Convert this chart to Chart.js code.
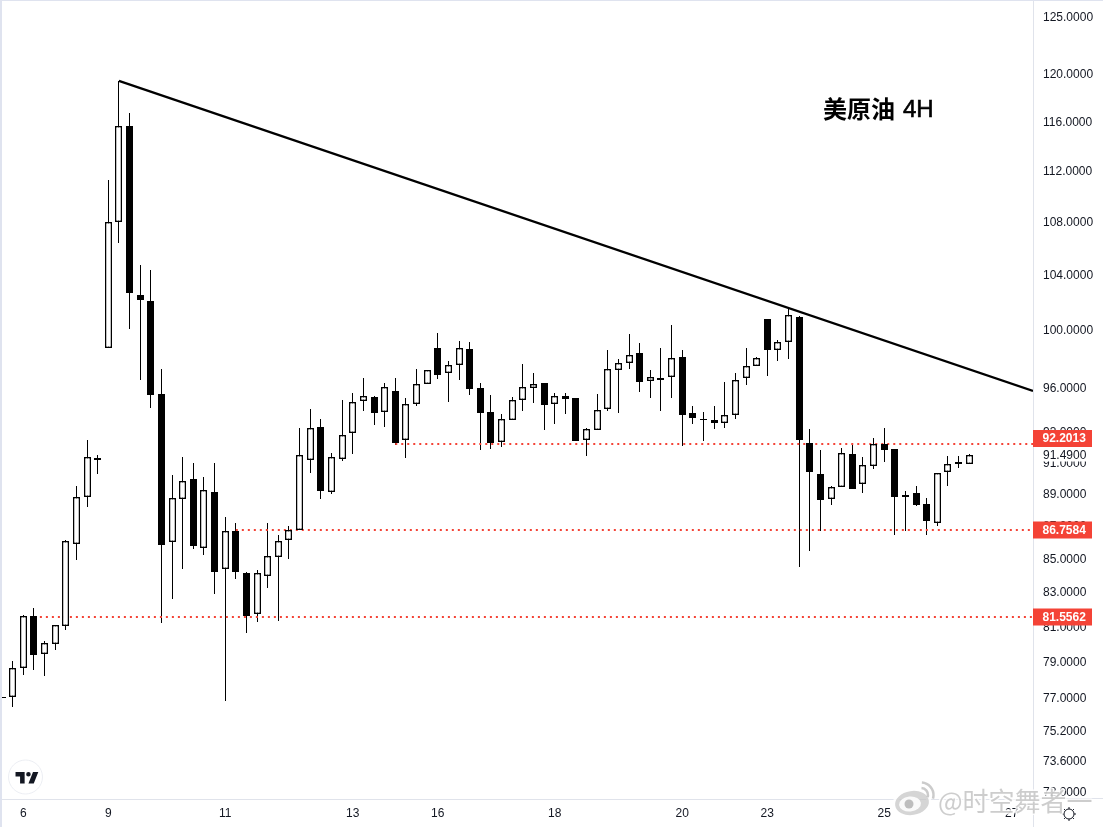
<!DOCTYPE html>
<html><head><meta charset="utf-8">
<style>html,body{margin:0;padding:0;background:#fff;overflow:hidden}canvas{display:block}</style>
<script src="https://cdn.jsdelivr.net/npm/chart.js@4"></script>
</head><body><canvas id="c" width="1103" height="827"></canvas>
<script>
const opens=[77.02,76.99,78.59,81.55,79.38,79.94,80.97,85.84,88.76,91.28,98.68,107.94,115.57,102.50,102.06,95.53,86.00,88.63,89.90,85.60,89.10,84.33,86.64,84.09,81.67,83.91,85.05,86.08,86.70,91.13,93.29,89.08,91.19,92.89,95.03,95.30,94.29,95.71,92.43,94.83,96.19,98.68,96.95,97.50,98.61,95.92,94.29,92.30,93.76,95.10,95.92,96.26,94.83,95.37,95.24,92.43,93.09,94.49,97.15,97.64,98.33,96.39,96.60,96.67,98.05,94.23,93.84,93.76,93.56,94.09,96.60,97.43,100.74,98.55,99.11,100.89,92.24,90.22,88.63,89.39,91.52,89.58,90.76,92.17,91.84,88.90,89.01,88.32,87.13,90.35,91.00,90.87];
const highs=[77.02,78.98,81.63,82.04,80.13,81.03,86.10,89.47,92.45,91.47,111.24,119.36,116.67,104.69,104.34,97.24,90.18,91.34,90.95,90.05,90.95,87.52,87.15,84.15,84.29,87.15,86.39,86.97,93.22,94.51,93.84,91.58,95.12,95.58,96.60,95.37,96.26,96.60,95.24,97.22,97.15,99.74,97.78,99.18,99.11,96.26,95.44,94.18,95.30,97.57,96.95,96.26,95.58,95.58,95.24,93.22,95.53,98.55,97.92,99.67,99.04,97.15,98.68,100.31,98.55,94.70,94.29,94.70,96.33,96.95,98.68,98.05,100.74,99.25,101.65,101.00,93.16,91.80,89.47,91.91,92.19,91.32,92.56,93.24,91.84,89.16,89.47,88.70,90.29,91.41,91.41,91.52];
const lows=[76.98,76.47,78.22,78.51,78.16,79.62,80.76,84.89,88.15,90.24,98.68,106.39,100.07,96.48,94.58,81.18,82.56,84.36,85.55,85.19,82.86,76.78,83.75,80.59,81.24,83.23,81.30,84.95,86.70,90.31,88.65,88.97,91.08,91.54,94.40,93.44,93.33,92.12,91.30,94.72,96.19,96.55,95.01,96.48,95.48,91.80,91.86,92.01,93.76,94.40,94.92,93.11,93.51,94.18,92.41,91.43,93.09,94.40,94.27,97.24,95.68,95.28,94.38,95.28,92.06,93.51,92.39,93.18,93.24,93.84,96.16,97.43,96.76,97.82,97.96,84.48,85.45,86.68,88.27,89.39,89.30,89.03,90.56,91.02,86.41,86.68,88.23,86.41,86.97,89.47,90.65,90.87];
const closes=[76.98,78.59,81.55,79.36,80.00,81.03,86.02,88.76,91.32,91.15,107.94,115.57,102.67,102.14,95.48,85.80,88.70,89.78,85.75,89.20,84.18,86.64,84.18,81.59,84.09,85.11,86.02,86.70,91.45,93.22,89.18,91.32,92.76,94.97,95.37,94.27,95.98,92.27,94.83,96.19,97.15,96.85,97.50,98.68,95.89,94.27,92.27,93.82,95.10,95.98,96.19,94.80,95.37,95.21,92.41,93.16,94.43,97.22,97.64,98.19,96.37,96.67,96.50,97.99,94.13,93.93,93.80,93.60,94.09,96.46,97.43,97.99,98.55,99.11,101.03,92.47,90.39,88.61,89.39,91.58,89.30,90.80,92.17,91.82,88.80,88.80,88.29,87.29,90.29,90.87,90.91,91.49];
const dayTicks=[2,10,21,33,41,52,64,72,83,95];
const dayLabels=['6','9','11','13','16','18','20','23','25','27'];
const priceTicks=[125,120,116,112,108,104,100,96,93,91,89,87,85,83,81,79,77,75.2,73.6,72];
const levelValues=[92.19,86.72,81.51];
const levelStarts=[37,22,3];
const levelLabels=['92.2013','86.7584','81.5562'];
const lastPrice=91.49;
const trendX=[11,97];
const trendY=[119.36,95.73];
const xRange=[0,97];
const yRange=[71.61,126.43];

const idx=opens.map((_,i)=>i);
const tickColor='#131722', axisColor='#e0e3eb', red='#f44336';

const crisp={id:'crisp',afterDatasetsUpdate(chart){
  chart.data.datasets.forEach((ds,n)=>{
    const meta=chart.getDatasetMeta(n);
    if(meta.type==='bar'){
      meta.data.forEach(el=>{
        el.x=Math.floor(el.x)+0.5;
        let t=Math.round(Math.min(el.y,el.base)), b=Math.round(Math.max(el.y,el.base));
        if(b-t<1)b=t+1;
        el.y=t; el.base=b;
      });
    } else if(ds.snap){
      meta.data.forEach(p=>{p.y=Math.round(p.y);});
    }
  });
}};

const TV='M14 6H2v6h6v9h6V6Zm12 15h-7l6-15h7l-6 15Zm-7-9a3 3 0 1 0 0-6 3 3 0 0 0 0 6Z';
const overlay={id:'overlay',
 beforeDraw(chart){
  // nudge the price labels onto the reference's text centre line
  chart.scales.y.getLabelItems().forEach(it=>{
    if(!it.nudged){it.options.translation=[it.options.translation[0],it.options.translation[1]+1.5];it.nudged=true;}
  });
 },
 afterDraw(chart){
  const ctx=chart.ctx, y=chart.scales.y, ca=chart.chartArea;
  ctx.save();
  // window edge
  ctx.fillStyle='#dfe3ef';
  ctx.fillRect(0,0,2,827); ctx.fillRect(0,0,1103,1);
  // axis line extensions
  ctx.fillStyle=axisColor;
  ctx.fillRect(1033,ca.bottom,1,28);
  ctx.fillRect(1033,ca.bottom-1,70,1);
  // last price
  const ly=y.getPixelForValue(lastPrice);
  ctx.fillStyle='#fff';
  ctx.fillRect(1034,447,66,14.5);
  ctx.fillStyle=tickColor; ctx.font='12px "Liberation Sans"';
  ctx.textAlign='left'; ctx.textBaseline='middle';
  ctx.fillText(lastPrice.toFixed(4),1043,ly+1);
  // level badges
  const shifts=[-5.5,0,0];
  levelValues.forEach((v,i)=>{
    const py=Math.round(y.getPixelForValue(v))+shifts[i];
    ctx.fillStyle=red;
    ctx.fillRect(1033,py-8.5,59,17);
    ctx.fillStyle='#fff'; ctx.font='bold 12px "Liberation Sans"';
    ctx.fillText(levelLabels[i],1042.5,py+0.5);
  });
  // title
  ctx.fillStyle='#000'; ctx.textBaseline='middle';
  ctx.font='bold 24px "Noto Sans CJK SC"';
  ctx.fillText('美原油',823,109);
  ctx.font='24px "Liberation Sans"';
  ctx.strokeStyle='#000'; ctx.lineWidth=0.6;
  ctx.strokeText('4H',903,110);
  ctx.fillText('4H',903,110);
  // TradingView badge
  ctx.beginPath(); ctx.arc(25.5,777,17,0,Math.PI*2);
  ctx.fillStyle='#fff'; ctx.fill(); ctx.strokeStyle='#eceef3'; ctx.lineWidth=1; ctx.stroke();
  ctx.save(); ctx.translate(14,767.5); ctx.scale(0.76,0.76);
  ctx.fillStyle=tickColor; ctx.fill(new Path2D(TV)); ctx.restore();
  // gear
  ctx.strokeStyle='#131722'; ctx.lineWidth=1;
  ctx.beginPath(); ctx.arc(1069,814,5,0,Math.PI*2); ctx.stroke();
  for(let a=0;a<8;a++){const s=Math.sin(a*Math.PI/4),c=Math.cos(a*Math.PI/4);
    ctx.beginPath();ctx.moveTo(1069+c*5,814+s*5);ctx.lineTo(1069+c*7,814+s*7);ctx.stroke();}
  // watermark
  const wm='rgba(175,175,175,0.62)';
  ctx.strokeStyle='rgba(255,255,255,0.85)'; ctx.lineJoin='round'; ctx.fillStyle=wm;
  ctx.lineWidth=3;
  ctx.font='26px "Noto Sans CJK SC"'; ctx.textBaseline='middle';
  ctx.strokeText('@时空舞者一',938,801);
  ctx.fillText('@时空舞者一',938,801);
  // weibo mark
  ctx.save();
  ctx.beginPath(); ctx.ellipse(912,803,17,12,-0.15,0,Math.PI*2);
  ctx.strokeStyle='rgba(255,255,255,0.85)'; ctx.lineWidth=5; ctx.stroke();
  ctx.fillStyle='rgba(195,195,195,0.7)'; ctx.fill();
  ctx.beginPath(); ctx.ellipse(910,804,11,7.5,-0.1,0,Math.PI*2); ctx.fillStyle='rgba(255,255,255,0.9)'; ctx.fill();
  ctx.beginPath(); ctx.arc(909,804,4.5,0,Math.PI*2); ctx.fillStyle='rgba(175,175,175,0.8)'; ctx.fill();
  ctx.strokeStyle='rgba(185,185,185,0.75)'; ctx.lineWidth=2.5;
  ctx.beginPath(); ctx.arc(921,795,7,-1.5,0.3); ctx.stroke();
  ctx.beginPath(); ctx.arc(921,795,12.5,-1.5,0.3); ctx.stroke();
  ctx.restore();
  ctx.restore();
}};

const wickData=idx.map(i=>({x:i,y:[lows[i],highs[i]]}));
const bodyData=idx.map(i=>({x:i,y:[opens[i],closes[i]]}));
const datasets=[
  {type:'bar',label:'wick',data:wickData,order:4,barThickness:1,grouped:false,backgroundColor:'#000',borderWidth:0,inflateAmount:0},
  ...levelValues.map((v,i)=>({type:'line',label:levelLabels[i],snap:true,
    data:[{x:levelStarts[i],y:v},{x:xRange[1],y:v}],order:3,borderColor:'#f44336',borderWidth:2,borderDash:[2,4],pointRadius:0,fill:false})),
  {type:'bar',label:'body',data:bodyData,order:2,barThickness:7,grouped:false,inflateAmount:0,
    backgroundColor:idx.map(i=>closes[i]>opens[i]?'#fff':'#000'),borderColor:'#000',
    borderWidth:idx.map(i=>closes[i]>opens[i]?1.5:0),borderSkipped:false},
  {type:'line',label:'trend',data:trendX.map((x,i)=>({x,y:trendY[i]})),order:1,borderColor:'#000',borderWidth:2.2,pointRadius:0,fill:false}
];

new Chart(document.getElementById('c'),{
  data:{datasets},
  plugins:[crisp,overlay],
  options:{
    responsive:false,animation:false,devicePixelRatio:1,
    layout:{padding:{left:2,right:0,top:0,bottom:0}},
    plugins:{legend:{display:false},title:{display:false},tooltip:{enabled:false}},
    scales:{
      x:{type:'linear',position:'bottom',min:xRange[0],max:xRange[1],offset:false,
        grid:{display:false,drawTicks:false},border:{display:true,color:axisColor},
        afterBuildTicks(s){s.ticks=dayTicks.map(v=>({value:v}));},
        afterFit(s){s.height=28;s.paddingLeft=0;s.paddingRight=0;},
        ticks:{autoSkip:false,maxRotation:0,padding:7,color:tickColor,font:{family:'"Liberation Sans"',size:12},
          callback(v){const i=dayTicks.indexOf(v);return i<0?'':dayLabels[i];}}},
      y:{type:'logarithmic',position:'right',min:yRange[0],max:yRange[1],bounds:'data',
        grid:{display:false,drawTicks:false},border:{display:true,color:axisColor},
        afterBuildTicks(s){s.ticks=priceTicks.map(v=>({value:v}));},
        afterFit(s){s.width=70;s.paddingTop=0;s.paddingBottom=0;},
        ticks:{autoSkip:false,padding:10,crossAlign:'near',color:tickColor,font:{family:'"Liberation Sans"',size:12},
          callback(v){return Number(v).toFixed(4);}}}
    }
  }
});
</script></body></html>
